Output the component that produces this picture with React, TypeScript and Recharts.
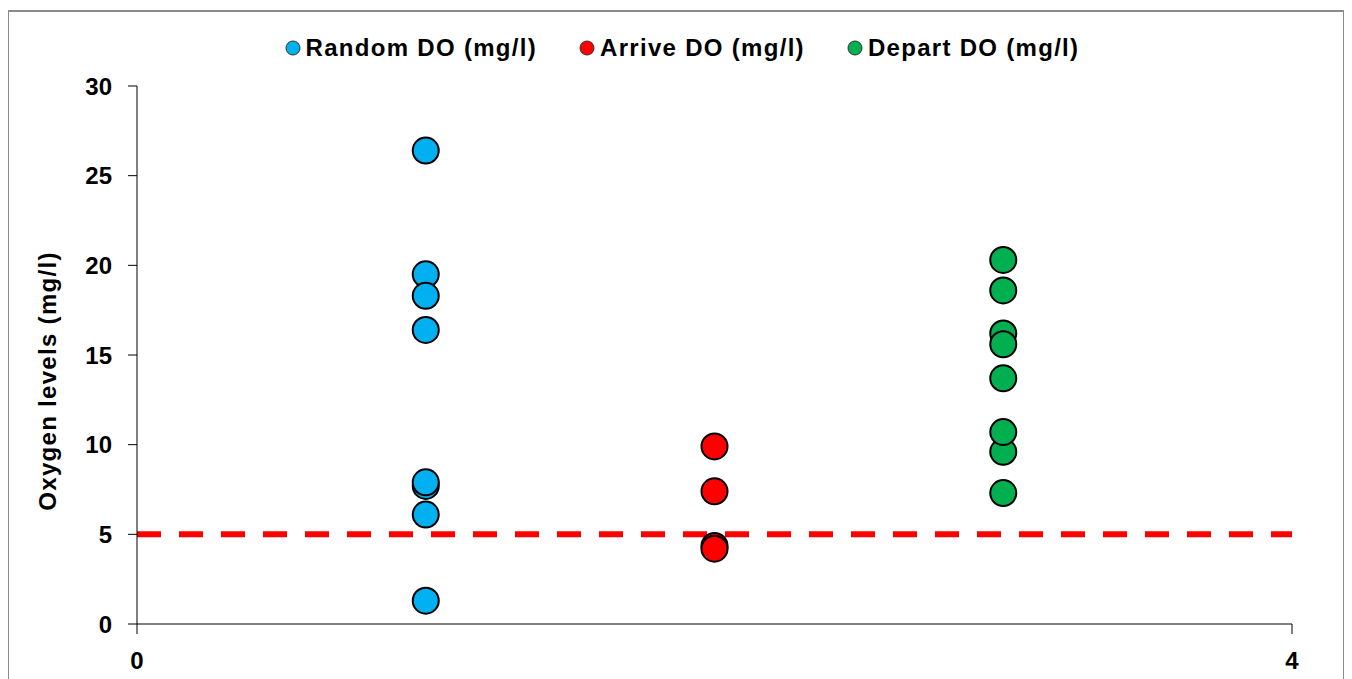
import {
  ScatterChart,
  Scatter,
  XAxis,
  YAxis,
  Legend,
  ReferenceLine,
} from 'recharts';

// dissolved oxygen readings, one column of points per group
const randomDO = [26.4, 19.5, 18.3, 16.4, 7.7, 7.9, 6.1, 1.3];
const arriveDO = [9.9, 7.4, 4.35, 4.2];
const departDO = [20.3, 18.6, 16.2, 15.6, 13.7, 9.6, 10.7, 7.3];

const groupX = [1, 2, 3];
const xTicks = [0, 4];
const yTicks = [0, 5, 10, 15, 20, 25, 30];
const threshold = 5;

const FONT = '"Liberation Sans", Arial, sans-serif';

const toPoints = (x: number, values: number[]) => values.map((y) => ({ x, y }));

const series = [
  { name: 'Random DO (mg/l)', color: '#00B0F0', data: toPoints(groupX[0], randomDO) },
  { name: 'Arrive DO (mg/l)', color: '#FF0000', data: toPoints(groupX[1], arriveDO) },
  { name: 'Depart DO (mg/l)', color: '#00B050', data: toPoints(groupX[2], departDO) },
];

const Dot = (props: any) => (
  <circle cx={props.cx} cy={props.cy} r={13} fill={props.fill} stroke="#000" strokeWidth={2} />
);

// keep the legend in series order (recharts sorts by name otherwise)
const renderLegend = () => (
  <div
    style={{
      display: 'flex',
      justifyContent: 'center',
      gap: 42,
      paddingLeft: 12,
      fontFamily: FONT,
      fontWeight: 'bold',
      fontSize: 24,
      letterSpacing: 1.3,
      color: '#000',
      lineHeight: '24px',
    }}
  >
    {series.map((s) => (
      <div key={s.name} style={{ display: 'flex', alignItems: 'center' }}>
        <svg width={16} height={16}>
          <circle cx={8} cy={8} r={7} fill={s.color} stroke="#333" strokeWidth={1} />
        </svg>
        <span style={{ marginLeft: 5 }}>{s.name}</span>
      </div>
    ))}
  </div>
);

const YTitle = (props: any) => {
  const vb = props.viewBox || { y: 78, height: 538 };
  const cy = vb.y + vb.height / 2 + 26;
  return (
    <text
      x={39}
      y={cy}
      transform={`rotate(-90, 39, ${cy})`}
      textAnchor="middle"
      dominantBaseline="central"
      fontFamily={FONT}
      fontWeight="bold"
      fontSize={24}
      letterSpacing={1.3}
      fill="#000"
    >
      Oxygen levels (mg/l)
    </text>
  );
};

const tickStyle = { fontFamily: FONT, fontWeight: 'bold', fontSize: 24, fill: '#000' };

export default function App() {
  return (
    <div style={{ position: 'relative', width: 1336, height: 671 }}>
      <div
        style={{
          position: 'absolute',
          left: -1,
          top: 2,
          width: 1338,
          height: 700,
          border: '2px solid #8a8a8a',
          boxSizing: 'border-box',
        }}
      />
      <div style={{ position: 'absolute', left: 0, top: 0 }}>
        <ScatterChart
          width={1336}
          height={671}
          margin={{ top: 54, right: 52, left: 0, bottom: 10 }}
        >
          <XAxis
            type="number"
            dataKey="x"
            domain={[0, 4]}
            ticks={xTicks}
            height={45}
            axisLine={{ stroke: '#808080', strokeWidth: 2 }}
            tickLine={{ stroke: '#000' }}
            tickSize={10}
            tickMargin={18}
            tick={tickStyle}
          />
          <YAxis
            type="number"
            dataKey="y"
            domain={[0, 30]}
            ticks={yTicks}
            width={129}
            axisLine={{ stroke: '#000' }}
            tickLine={{ stroke: '#000' }}
            tickSize={9}
            tickMargin={16}
            tick={tickStyle}
            label={<YTitle />}
          />
          <Legend
            layout="vertical"
            align="center"
            verticalAlign="top"
            content={renderLegend}
            wrapperStyle={{ left: 0, top: 28, width: 1336 }}
          />
          {series.map((s) => (
            <Scatter
              key={s.name}
              name={s.name}
              data={s.data}
              fill={s.color}
              shape={<Dot />}
              isAnimationActive={false}
            />
          ))}
          <ReferenceLine
            y={threshold}
            stroke="#FF0000"
            strokeWidth={6}
            strokeDasharray="24 18"
          />
        </ScatterChart>
      </div>
    </div>
  );
}
